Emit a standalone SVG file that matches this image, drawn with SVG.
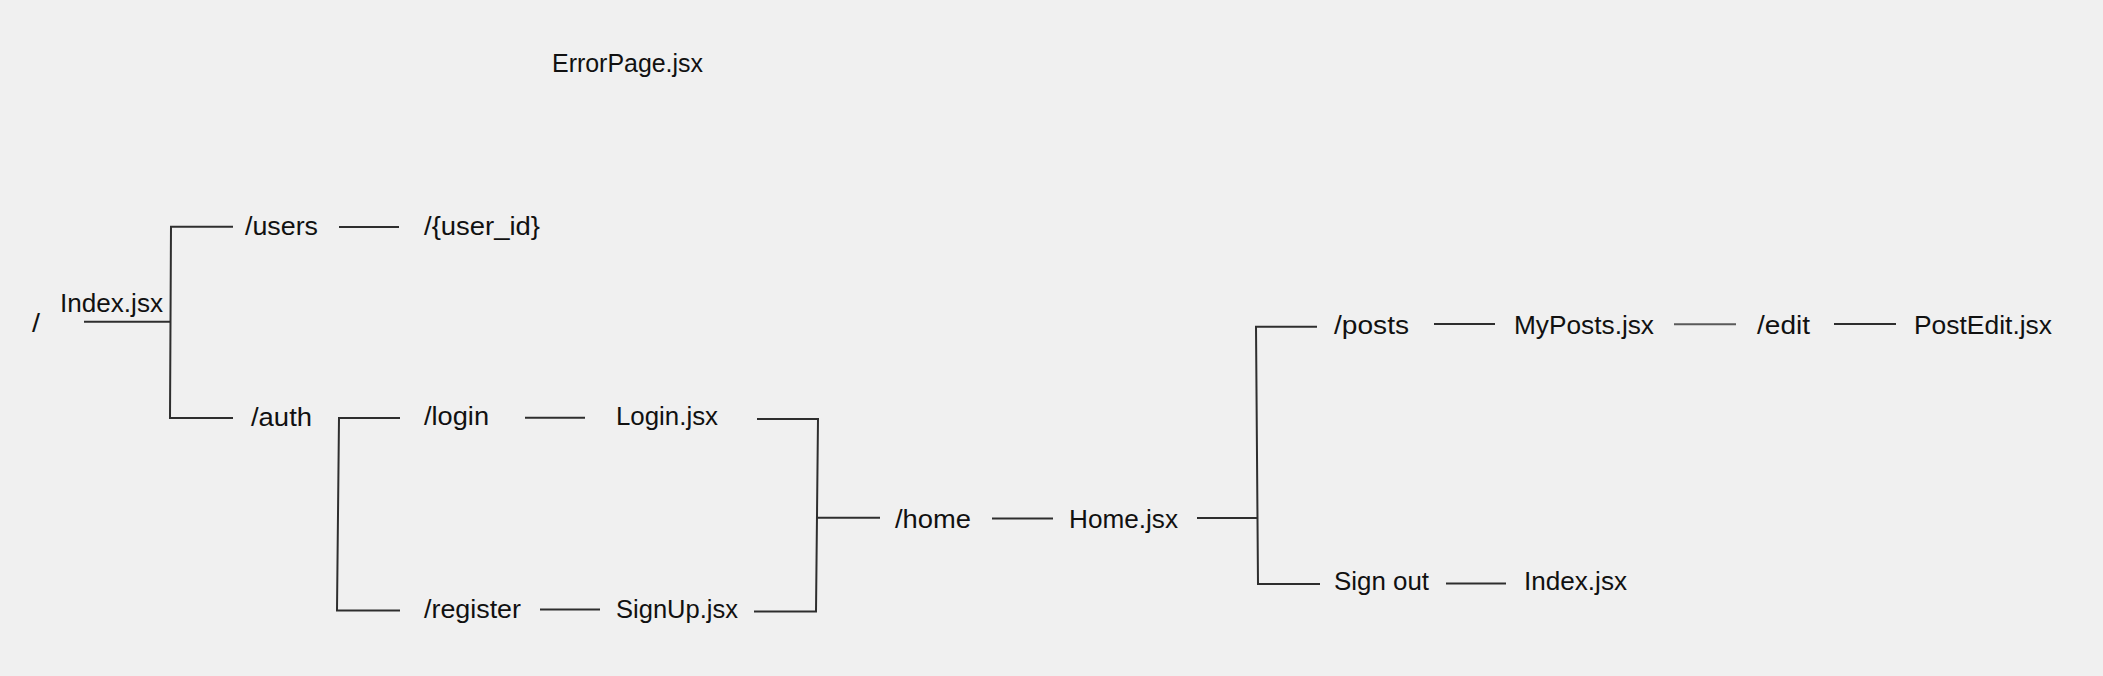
<svg xmlns="http://www.w3.org/2000/svg" width="2103" height="676" viewBox="0 0 2103 676">
<style>
.bg{fill:#f0f0f0}
text{font-family:"Liberation Sans",Arial,sans-serif;font-size:26px;fill:#111}
.c{fill:none;stroke:#2e2e2e;stroke-width:2;stroke-linecap:butt;stroke-linejoin:miter}
.l{stroke:#5a5a5a}
</style>
<rect class="bg" x="0" y="0" width="2103" height="676"/>
<g id="connectors">
<path class="c" d="M84 321.7 H170"/>
<path class="c" d="M233 226.7 H171 L170 418 H233"/>
<path class="c" d="M339 227 H399"/>
<path class="c" d="M400 418 H339 L337 610.5 H400"/>
<path class="c" d="M525 417.7 H585"/>
<path class="c" d="M540 609.5 H600"/>
<path class="c" d="M757 419 H818 L816 611.5 H754"/>
<path class="c" d="M817 517.7 H880"/>
<path class="c" d="M992 518.5 H1053"/>
<path class="c" d="M1197 518 H1257"/>
<path class="c" d="M1317 326.7 H1256 L1258 584 H1320"/>
<path class="c" d="M1434 324 H1495"/>
<path class="c l" d="M1674 324.3 H1736"/>
<path class="c" d="M1834 324 H1896"/>
<path class="c" d="M1446 583.5 H1506"/>
</g>
<g id="node-root"><text x="32" y="332" textLength="8" lengthAdjust="spacingAndGlyphs">/</text></g>
<g id="node-index"><text x="60" y="312" textLength="103" lengthAdjust="spacingAndGlyphs">Index.jsx</text></g>
<g id="node-error"><text x="552" y="72" textLength="151" lengthAdjust="spacingAndGlyphs">ErrorPage.jsx</text></g>
<g id="node-users"><text x="245" y="235" textLength="73" lengthAdjust="spacingAndGlyphs">/users</text></g>
<g id="node-userid"><text x="424" y="235" textLength="116" lengthAdjust="spacingAndGlyphs">/{user_id}</text></g>
<g id="node-auth"><text x="251" y="426" textLength="61" lengthAdjust="spacingAndGlyphs">/auth</text></g>
<g id="node-login"><text x="424" y="425" textLength="65" lengthAdjust="spacingAndGlyphs">/login</text></g>
<g id="node-loginjsx"><text x="616" y="425" textLength="102" lengthAdjust="spacingAndGlyphs">Login.jsx</text></g>
<g id="node-register"><text x="424" y="618" textLength="97" lengthAdjust="spacingAndGlyphs">/register</text></g>
<g id="node-signupjsx"><text x="616" y="618" textLength="122" lengthAdjust="spacingAndGlyphs">SignUp.jsx</text></g>
<g id="node-home"><text x="895" y="528" textLength="76" lengthAdjust="spacingAndGlyphs">/home</text></g>
<g id="node-homejsx"><text x="1069" y="528" textLength="109" lengthAdjust="spacingAndGlyphs">Home.jsx</text></g>
<g id="node-posts"><text x="1334" y="334" textLength="75" lengthAdjust="spacingAndGlyphs">/posts</text></g>
<g id="node-mypostsjsx"><text x="1514" y="334" textLength="140" lengthAdjust="spacingAndGlyphs">MyPosts.jsx</text></g>
<g id="node-edit"><text x="1757" y="334" textLength="53" lengthAdjust="spacingAndGlyphs">/edit</text></g>
<g id="node-posteditjsx"><text x="1914" y="334" textLength="138" lengthAdjust="spacingAndGlyphs">PostEdit.jsx</text></g>
<g id="node-signout"><text x="1334" y="590" textLength="95" lengthAdjust="spacingAndGlyphs">Sign out</text></g>
<g id="node-index2"><text x="1524" y="590" textLength="103" lengthAdjust="spacingAndGlyphs">Index.jsx</text></g>
</svg>
